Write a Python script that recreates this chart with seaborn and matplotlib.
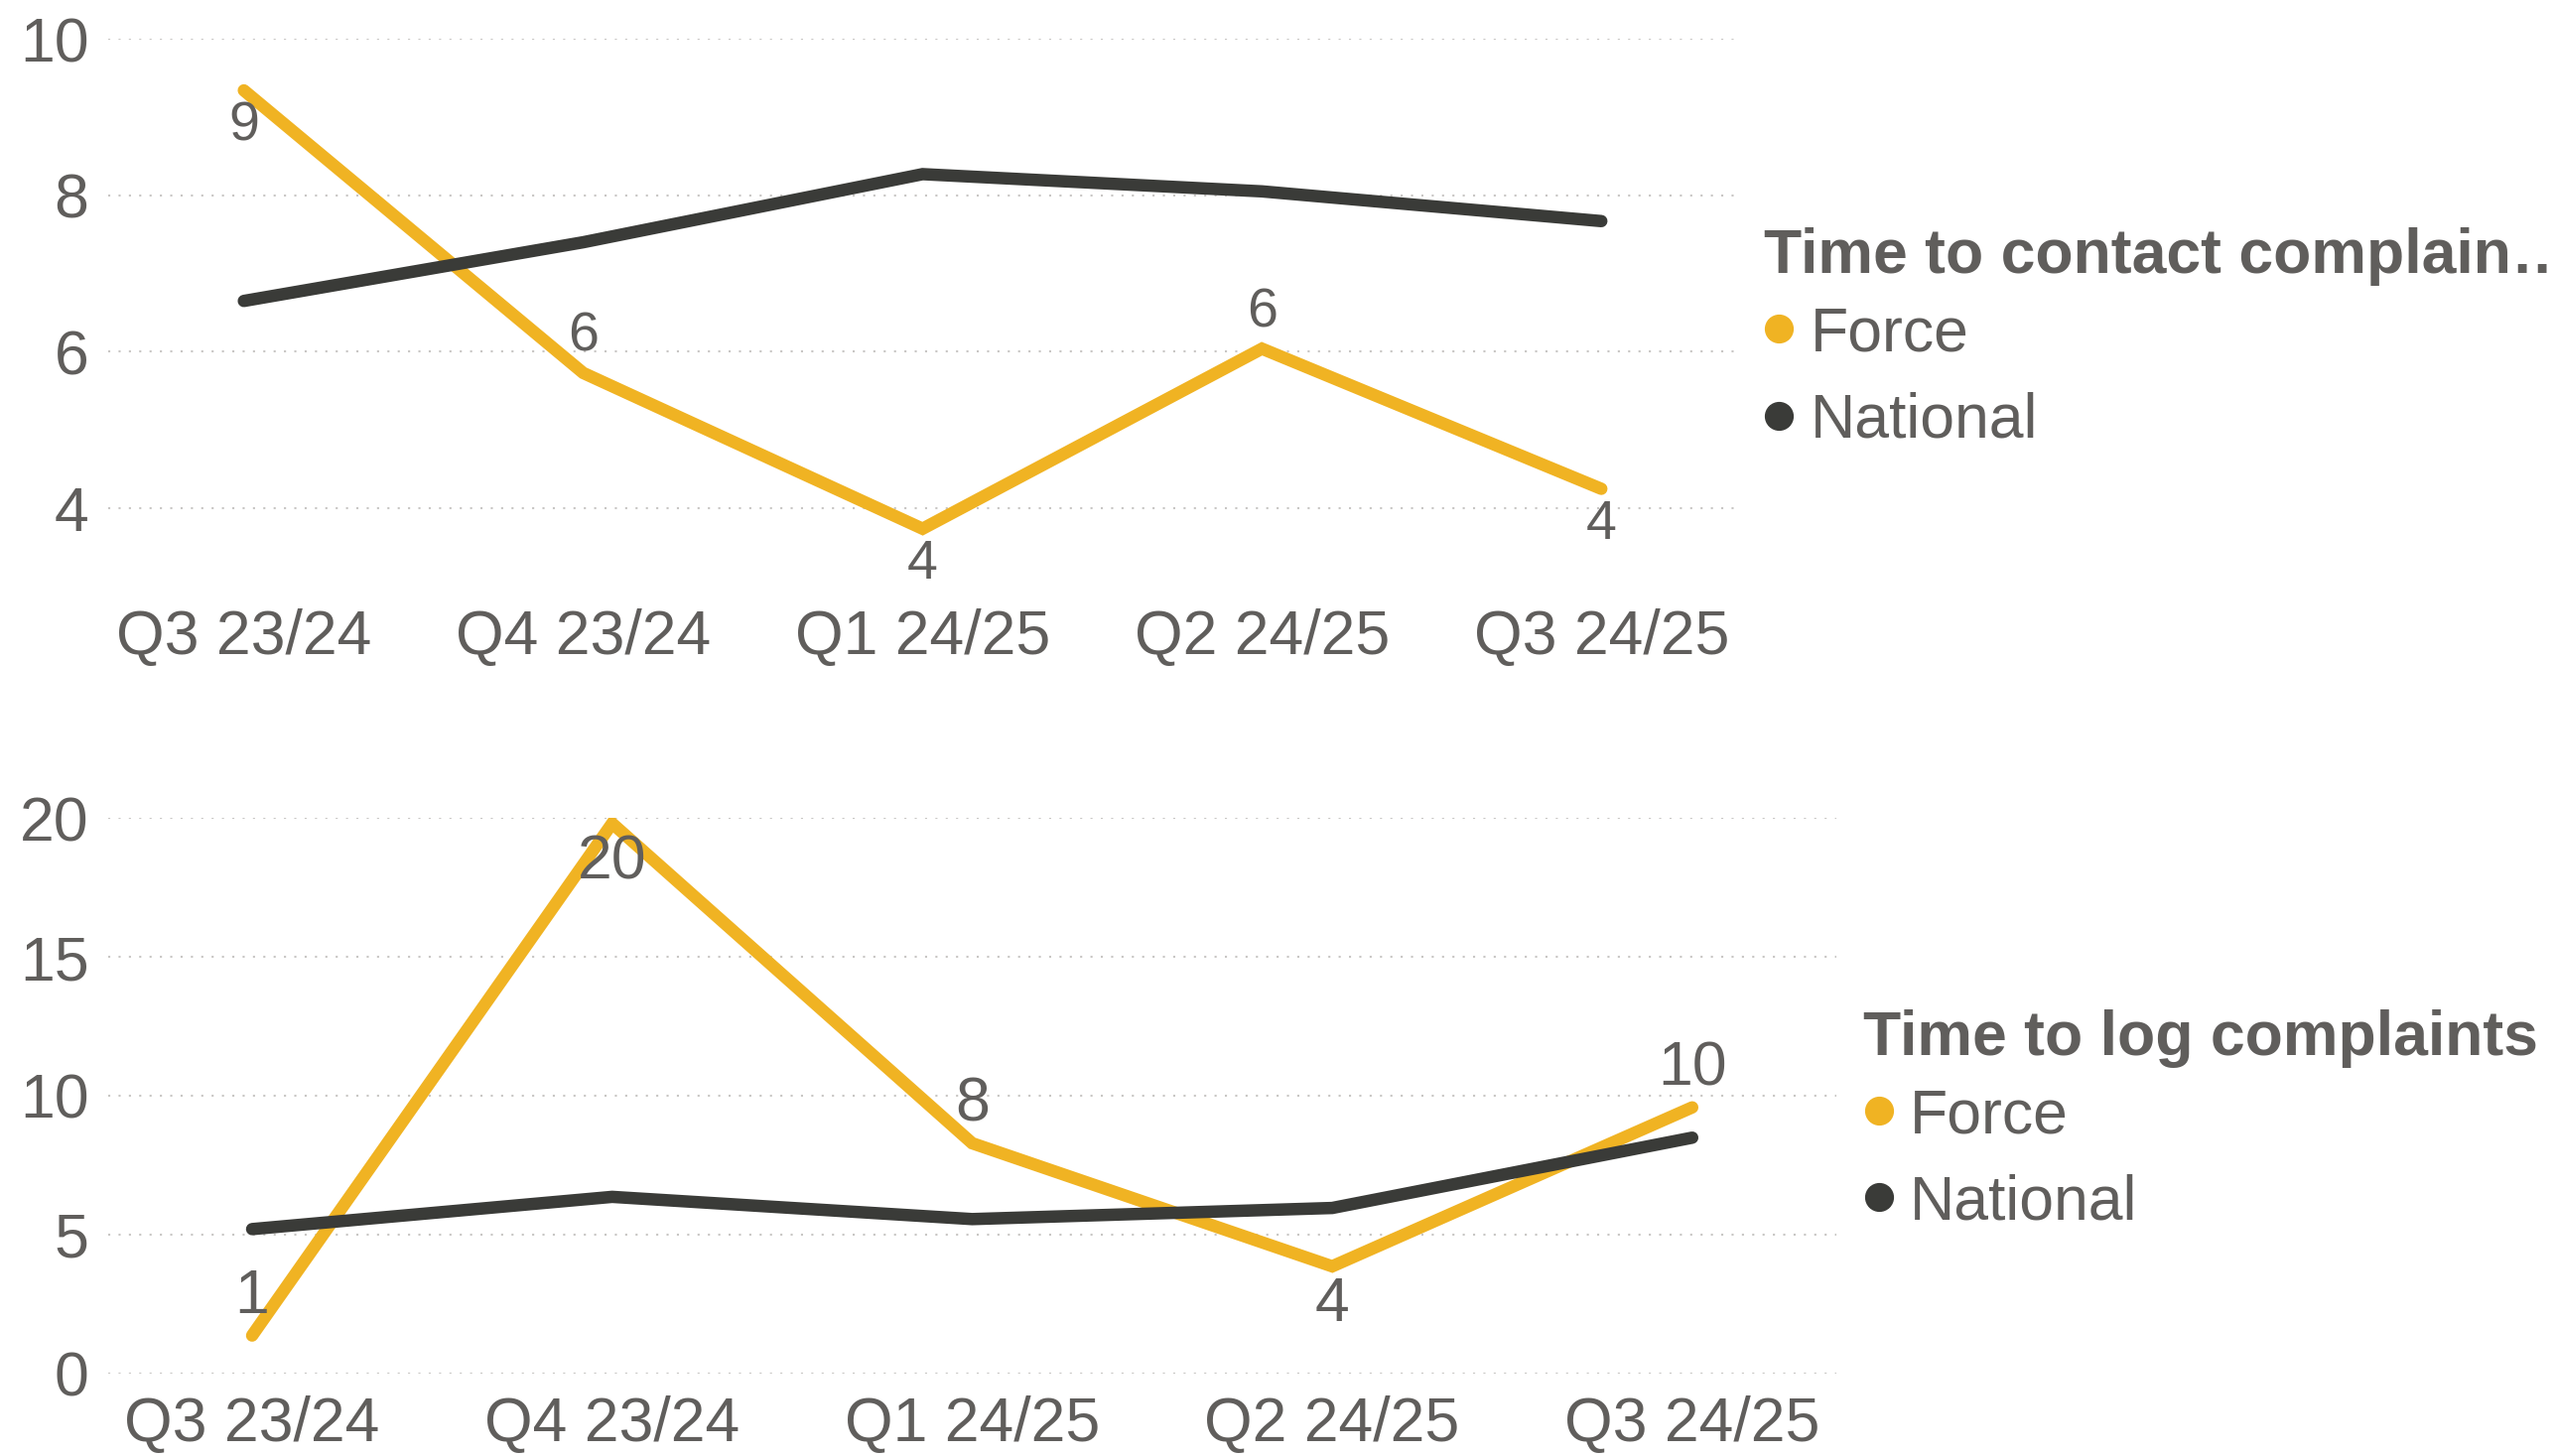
import pandas as pd
import matplotlib.pyplot as plt
import seaborn as sns
from matplotlib.lines import Line2D

# Quarterly data
quarters = ["Q3 23/24", "Q4 23/24", "Q1 24/25", "Q2 24/25", "Q3 24/25"]
contact_force = [9.34, 5.73, 3.74, 6.04, 4.25]
contact_national = [6.65, 7.40, 8.27, 8.05, 7.67]
log_force = [1.37, 19.8, 8.29, 3.86, 9.58]
log_national = [5.2, 6.36, 5.56, 5.96, 8.49]

series_names = ["Force", "National"]
colors = {"Force": "#F0B323", "National": "#3A3B38"}
text_color = "#605E5C"
grid_color = "#C8C6C4"

sns.set_style("white")
plt.rcParams['font.family'] = ['Liberation Sans', 'DejaVu Sans']
plt.rcParams['text.color'] = text_color


def make_frame(force, national):
    return pd.DataFrame({
        "quarter": quarters * 2,
        "value": force + national,
        "series": ["Force"] * len(quarters) + ["National"] * len(quarters),
    })


def draw_panel(ax, force, national, yticks, ylim, title, sides, label_size, offset,
               legend_anchor, xpad):
    df = make_frame(force, national)
    sns.lineplot(data=df, x="quarter", y="value", hue="series", hue_order=series_names,
                 palette=colors, linewidth=9, sort=False, legend=False, ax=ax,
                 solid_capstyle="round", solid_joinstyle="miter")

    # data labels on the Force line only
    for i, v in enumerate(force):
        ax.annotate(f"{v:.0f}", (i, v), xytext=(0, offset * sides[i]), textcoords="offset points",
                    ha="center", va="center", fontsize=label_size, color=text_color)

    ax.set_xlim(-0.4, 4.4)
    ax.set_ylim(*ylim)
    ax.set_yticks(yticks)
    ax.set_xlabel("")
    ax.set_ylabel("")
    ax.grid(axis="y", linestyle=(0, (1, 4)), color=grid_color, linewidth=1.5)
    ax.grid(axis="x", visible=False)
    ax.set_axisbelow(True)
    for s in ax.spines.values():
        s.set_visible(False)
    ax.tick_params(axis="both", length=0, labelsize=45, labelcolor=text_color)
    ax.tick_params(axis="y", pad=14)
    ax.tick_params(axis="x", pad=xpad)

    handles = [Line2D([], [], marker="o", linestyle="none", markersize=20,
                      markerfacecolor=colors[n], markeredgecolor=colors[n]) for n in series_names]
    leg = ax.legend(handles, series_names, title=title, loc="upper left",
                    bbox_to_anchor=legend_anchor, bbox_transform=ax.figure.transFigure,
                    frameon=False, fontsize=45, title_fontsize=45, borderpad=0,
                    handlelength=0.5, handletextpad=0.25, labelspacing=0.45, borderaxespad=0)
    leg.get_title().set_fontweight("bold")
    leg.get_title().set_color(text_color)
    for t in leg.get_texts():
        t.set_color(text_color)
    leg._legend_box.align = "left"
    leg._legend_box.sep = 14


fig = plt.figure(figsize=(25.75, 14.67), dpi=100)
ax1 = fig.add_axes([0.0423, 0.5944, 0.6373, 0.379])
ax2 = fig.add_axes([0.0423, 0.0566, 0.6761, 0.3817])

draw_panel(ax1, contact_force, contact_national, [4, 6, 8, 10], (2.95, 10.0),
           "Time to contact complain\u2026", [-1, 1, -1, 1, -1], 40, 26, (0.690, 0.844), 13)
draw_panel(ax2, log_force, log_national, [0, 5, 10, 15, 20], (0, 20.0),
           "Time to log complaints", [1, -1, 1, -1, 1], 45, 28, (0.729, 0.307), 16)

fig.savefig("out.png", dpi=100)
